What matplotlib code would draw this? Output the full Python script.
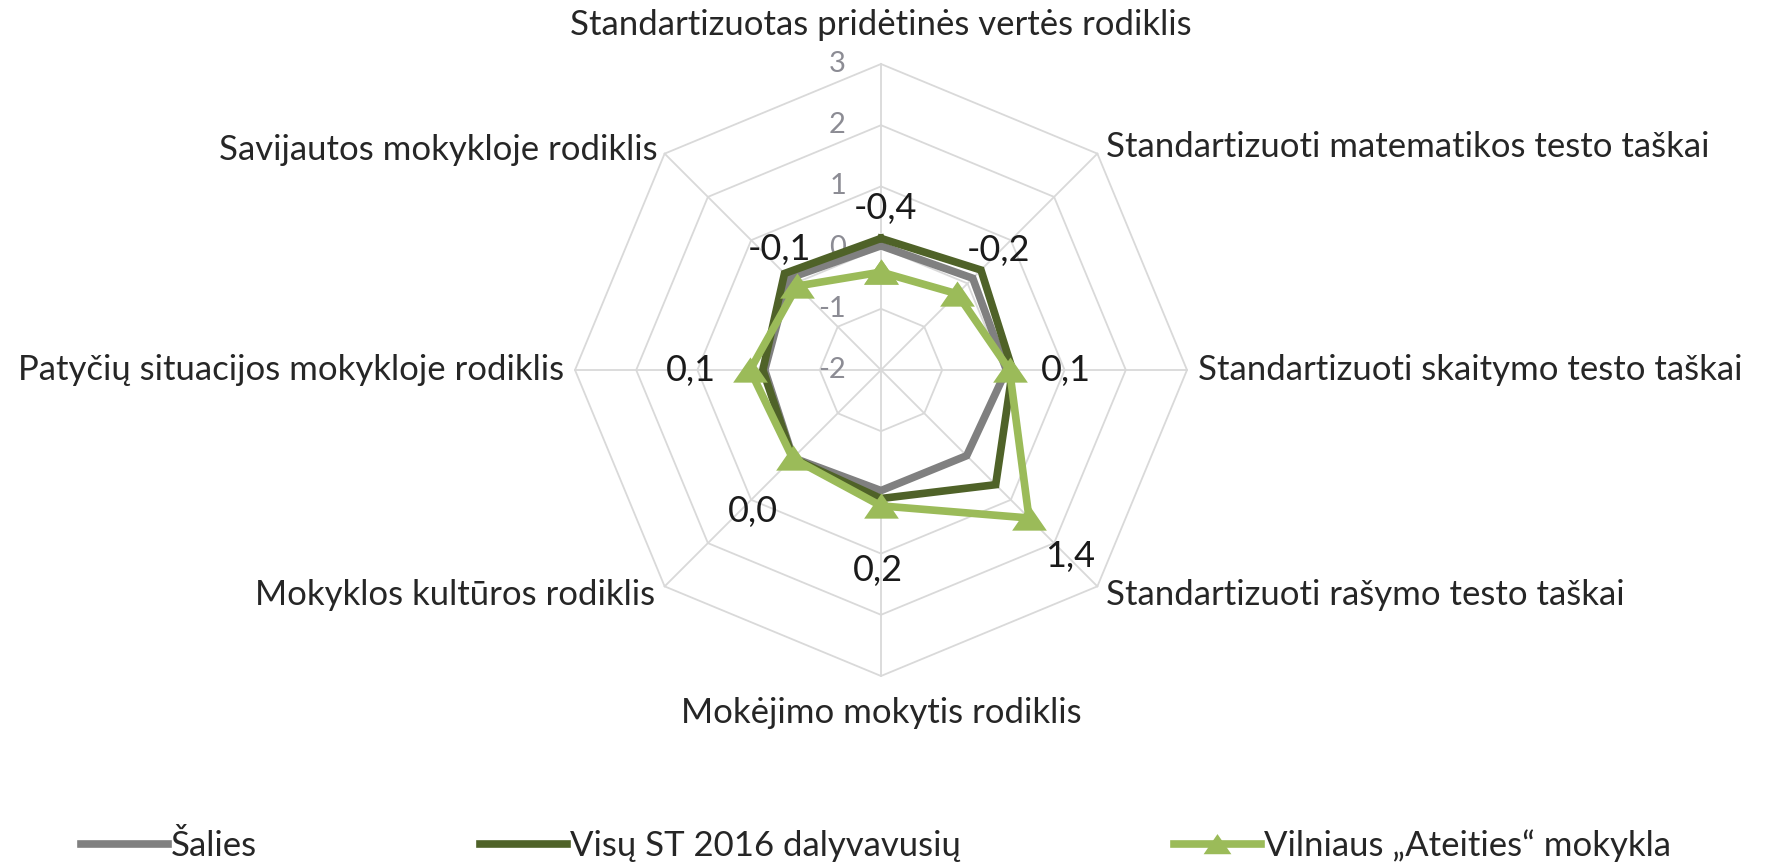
import numpy as np
import matplotlib
matplotlib.use("Agg")
import matplotlib.pyplot as plt
from matplotlib.lines import Line2D
from matplotlib.path import Path

# ---------------- data ----------------
categories = [
    "Standartizuotas pridėtinės vertės rodiklis",
    "Standartizuoti matematikos testo taškai",
    "Standartizuoti skaitymo testo taškai",
    "Standartizuoti rašymo testo taškai",
    "Mokėjimo mokytis rodiklis",
    "Mokyklos kultūros rodiklis",
    "Patyčių situacijos mokykloje rodiklis",
    "Savijautos mokykloje rodiklis",
]
series_names = ["Šalies", "Visų ST 2016 dalyvavusių", "Vilniaus „Ateities“ mokykla"]
salies = [0.03, 0.12, 0.05, -0.02, -0.03, 0.03, -0.10, 0.12]
visu = [0.15, 0.31, 0.15, 0.65, 0.10, 0.04, -0.07, 0.23]
mokykla = [-0.40, -0.24, 0.10, 1.42, 0.22, 0.04, 0.14, -0.06]
r_ticks = [3, 2, 1, 0, -1, -2]
r_min, r_max = -2, 3

# ---------------- style ----------------
FONT = ["Lato", "DejaVu Sans"]
plt.rcParams["font.family"] = FONT
FS = 25
col_salies = "#808080"
col_visu = "#4f6228"
col_mok = "#9bbb59"
grid_col = "#d9d9d9"
txt_col = "#262626"

W, H = 1769, 866
fig = plt.figure(figsize=(W / 100, H / 100), dpi=100)
cx, cy, R = 881, 370, 306
ax = fig.add_axes([(cx - R) / W, (H - cy - R) / H, 2 * R / W, 2 * R / H], projection="polar")
ax.set_theta_offset(np.pi / 2)
ax.set_theta_direction(-1)
ax.set_ylim(r_min, r_max)
ax.grid(False)
ax.set_xticks([])
ax.set_yticks([])
ax.spines["polar"].set_visible(False)
ax.patch.set_alpha(0)

n = len(categories)
theta = np.arange(n) * 2 * np.pi / n
theta_c = np.append(theta, theta[0])

# octagonal grid
for r in r_ticks:
    if r == r_min:
        continue
    ax.plot(theta_c, [r] * (n + 1), color=grid_col, lw=1.3, zorder=1, clip_on=False)
for t in theta:
    ax.plot([t, t], [r_min, r_max], color=grid_col, lw=1.3, zorder=1, clip_on=False)

# radial tick labels
for r in r_ticks:
    ax.annotate(str(r), xy=(0, r), xytext=(-35, 0), textcoords="offset pixels",
                ha="right", va="center", fontsize=21, color="#8c8c94",
                annotation_clip=False)

# series
tri = Path([(-1, -0.7), (1, -0.7), (0, 0.75), (-1, -0.7)],
           [Path.MOVETO, Path.LINETO, Path.LINETO, Path.CLOSEPOLY])
lw = 5.5
h1, = ax.plot(theta_c, salies + salies[:1], color=col_salies, lw=lw, zorder=3,
              solid_joinstyle="miter", clip_on=False, label=series_names[0])
h2, = ax.plot(theta_c, visu + visu[:1], color=col_visu, lw=lw, zorder=4,
              solid_joinstyle="miter", clip_on=False, label=series_names[1])
h3, = ax.plot(theta_c, mokykla + mokykla[:1], color=col_mok, lw=lw, zorder=5,
              marker=tri, markersize=25, markeredgewidth=0,
              solid_joinstyle="miter", clip_on=False, label=series_names[2])

# data labels for school series (offsets in pixels)
label_offsets = [(4, 64), (41, 43), (56, 0), (41, -38), (-3, -65), (-40, -53), (-59, 0), (-18, 37)]
for t, v, off in zip(theta, mokykla, label_offsets):
    s = f"{v:.1f}".replace(".", ",")
    if s == "-0,0":
        s = "0,0"
    ax.annotate(s, xy=(t, v), xytext=off, textcoords="offset pixels",
                ha="center", va="center", fontsize=FS + 1, color="#1a1a1a",
                annotation_clip=False, zorder=6)

# category labels
cat_offsets = [(0, 39), (9, 7), (11, 0), (9, -9), (0, -37), (-10, -9), (-11, 0), (-7, 4)]
cat_ha = ["center", "left", "left", "left", "center", "right", "right", "right"]
for t, c, off, ha in zip(theta, categories, cat_offsets, cat_ha):
    ax.annotate(c, xy=(t, r_max), xytext=off, textcoords="offset pixels",
                ha=ha, va="center", fontsize=FS, color=txt_col,
                annotation_clip=False)

# legend (three entries spread out)
leg_x = [81, 480, 1174]
leg_y = H - 846
for h, x in zip([h1, h2, h3], leg_x):
    proxy = Line2D([], [], color=h.get_color(), lw=lw,
                   marker=h.get_marker() if h is h3 else None,
                   markersize=20, markeredgewidth=0)
    fig.legend(handles=[proxy], labels=[h.get_label()], loc="center left",
               bbox_to_anchor=(x / W, leg_y / H), frameon=False,
               borderaxespad=0, borderpad=0, handlelength=2.5,
               handletextpad=0.08, fontsize=FS, labelcolor=txt_col)

fig.savefig("out.png", dpi=100)
